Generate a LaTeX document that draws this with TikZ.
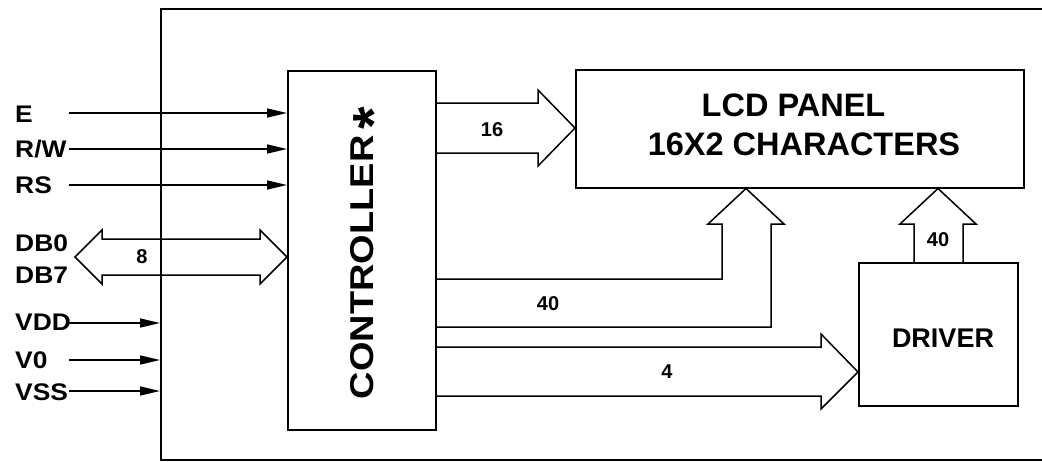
\documentclass[tikz,border=0pt]{standalone}
\usepackage{fontspec}
\usepackage{graphicx}
\setmainfont{Liberation Sans}
\usetikzlibrary{arrows.meta,calc}
\newcommand{\widelbl}[1]{\scalebox{1.1}[1]{#1}}
\begin{document}
\begin{tikzpicture}[x=1pt,y=-1pt,
  box/.style={draw, line width=1.5pt, inner sep=0pt, anchor=north west},
  sig/.style={line width=1.5pt, -{Triangle[length=20pt,width=9pt]}},
  bus/.style={draw, line width=1.5pt, line join=miter},
  lbl/.style={font=\fontsize{24}{24}\selectfont\bfseries, anchor=base west, inner sep=0pt},
  num/.style={font=\fontsize{20}{20}\selectfont\bfseries, inner sep=0pt},
  big/.style={font=\fontsize{32.5}{32.5}\selectfont\bfseries, anchor=base, inner sep=0pt}]
\useasboundingbox (0,0) rectangle (1042,461);
\clip (0,0) rectangle (1042,461);

% boxes
\node[box, minimum width=900pt, minimum height=451pt] (outer) at (160,8) {};
\node[box, minimum width=148pt, minimum height=359pt] (ctrl) at (287,70) {};
\node[box, minimum width=448pt, minimum height=118pt] (lcd) at (575,69) {};
\node[box, minimum width=159pt, minimum height=143pt] (drv) at (858,262) {};

% texts in boxes
\node[big] (lcd1) at (793.5,116) {LCD PANEL};
\node[big] (lcd2) at (804,155) {16X2 CHARACTERS};
\node[font=\fontsize{27}{27}\selectfont\bfseries, inner sep=0pt] (drvtxt) at (943,338) {DRIVER};
\node[rotate=90, anchor=base, inner sep=0pt, font=\fontsize{33}{33}\selectfont\bfseries] (ctrltxt) at (373,253)
  {\scalebox{1.15}[1]{CONTROLLER}\hspace{6pt}\raisebox{-20pt}{\fontsize{58}{58}\selectfont *}};

% left labels
\node[lbl] (lE) at (15,122) {\widelbl{E}};
\node[lbl] (lRW) at (15,157.5) {\widelbl{R/W}};
\node[lbl] (lRS) at (15,193.5) {\widelbl{RS}};
\node[lbl] (lDB0) at (15,251.5) {\widelbl{DB0}};
\node[lbl] (lDB7) at (15,283.5) {\widelbl{DB7}};
\node[lbl] (lVDD) at (15,330.5) {\widelbl{VDD}};
\node[lbl] (lV0) at (15,368.5) {\widelbl{V0}};
\node[lbl] (lVSS) at (15,400.5) {\widelbl{VSS}};

% signal lines
\coordinate (sE) at (69,113);
\coordinate (sRW) at (69,149);
\coordinate (sRS) at (69,185);
\coordinate (sVDD) at (69,323);
\coordinate (sV0) at (69,360);
\coordinate (sVSS) at (69,391);
\draw[sig] (sE) -- (sE -| ctrl.west);
\draw[sig] (sRW) -- (sRW -| ctrl.west);
\draw[sig] (sRS) -- (sRS -| ctrl.west);
\draw[sig] (sVDD) -- (sVDD -| outer.west);
\draw[sig] (sV0) -- (sV0 -| outer.west);
\draw[sig] (sVSS) -- (sVSS -| outer.west);

% DB bidirectional bus
\draw[bus] (102,239) -- (260,239) -- (260,230) -- (ctrl.west |- 0,257) -- (260,284) -- (260,275)
  -- (102,275) -- (102,284) -- (75,257) -- (102,230) -- cycle;
\node[num] (n8) at (142,257) {8};

% 16 bus to LCD
\draw[bus] (ctrl.east |- 0,103) -- (538,103) -- (538,90) -- (lcd.west |- 0,128) -- (538,166) -- (538,153) -- (ctrl.east |- 0,153);
\node[num] (n16) at (492,130) {16};

% 40 bus to LCD
\draw[bus] (ctrl.east |- 0,279) -- (722,279) -- (722,224) -- (708,224) -- (lcd.south -| 746,0) -- (784,224) -- (771,224) -- (771,327) -- (ctrl.east |- 0,327);
\node[num] (n40a) at (548,304) {40};

% 4 bus to driver
\draw[bus] (ctrl.east |- 0,347) -- (821,347) -- (821,334) -- (drv.west |- 0,372) -- (821,409) -- (821,396) -- (ctrl.east |- 0,396);
\node[num] (n4) at (667,372) {4};

% 40 bus driver to LCD
\draw[bus] (drv.north -| 914,0) -- (914,224) -- (900,224) -- (lcd.south -| 938,0) -- (976,224) -- (963,224) -- (drv.north -| 963,0);
\node[num] (n40b) at (938,240) {40};
\end{tikzpicture}
\end{document}
